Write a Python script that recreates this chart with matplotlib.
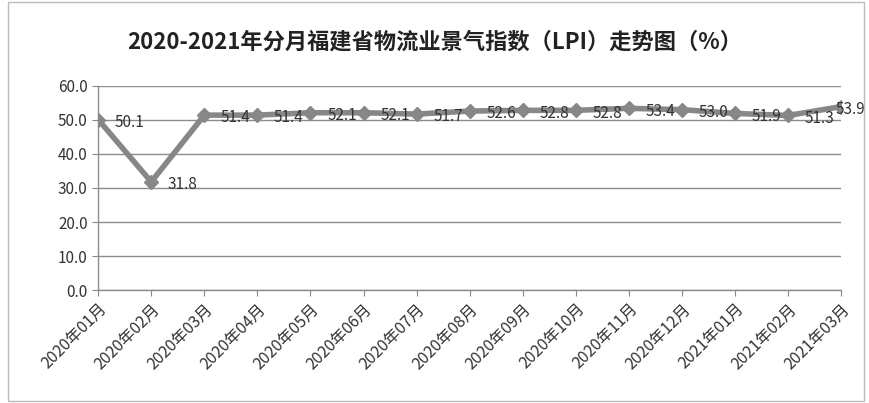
import matplotlib.pyplot as plt
from matplotlib.patches import Rectangle

plt.rcParams['font.family'] = ['Noto Sans CJK SC', 'DejaVu Sans']

# === Daten ===
months = ["2020年01月", "2020年02月", "2020年03月", "2020年04月", "2020年05月",
          "2020年06月", "2020年07月", "2020年08月", "2020年09月", "2020年10月",
          "2020年11月", "2020年12月", "2021年01月", "2021年02月", "2021年03月"]
lpi = [50.1, 31.8, 51.4, 51.4, 52.1, 52.1, 51.7, 52.6, 52.8, 52.8,
       53.4, 53.0, 51.9, 51.3, 53.9]
yticks = [0, 10, 20, 30, 40, 50, 60]

fig = plt.figure(figsize=(8.69, 4.03), dpi=100)
ax = fig.add_axes([0.113, 0.280, 0.855, 0.507])

x = list(range(len(months)))
ax.plot(x, lpi, color="#878787", lw=4.0, marker="D", ms=7,
        markerfacecolor="#878787", markeredgecolor="#878787", zorder=3)

for xi, v in zip(x, lpi):
    dx = 12 if xi < len(x) - 1 else -4  # letztes Label am Rand nach links
    ax.annotate(f"{v:.1f}", (xi, v), xytext=(dx, -2), textcoords="offset points",
                ha="left", va="center", fontsize=11, color="#333333", zorder=4,
                annotation_clip=False)

ax.set_xlim(0, len(months) - 1)
ax.set_ylim(0, 60)
ax.set_yticks(yticks)
ax.set_yticklabels([f"{t:.1f}" for t in yticks], fontsize=11, color="#333333")
ax.set_xticks(x)
ax.set_xticklabels(months, rotation=45, ha="right", rotation_mode="anchor",
                   fontsize=11.5, color="#333333")
ax.tick_params(axis="x", length=4, color="#888888")
ax.tick_params(axis="y", length=4, color="#888888")

ax.grid(axis="y", color="#8c8c8c", lw=1.0)
ax.set_axisbelow(True)
for side in ["top", "right"]:
    ax.spines[side].set_visible(False)
for side in ["left", "bottom"]:
    ax.spines[side].set_color("#8c8c8c")
    ax.spines[side].set_linewidth(1.0)

fig.text(0.5, 0.895, "2020-2021年分月福建省物流业景气指数（LPI）走势图（%）",
         ha="center", va="center", fontsize=16, fontweight="bold", color="#222222")

# Rahmen
fig.patches.append(Rectangle((0.009, 0.005), 0.985, 0.99, transform=fig.transFigure,
                             fill=False, edgecolor="#bbbbbb", lw=1.0))

fig.savefig("out.png", dpi=100)
